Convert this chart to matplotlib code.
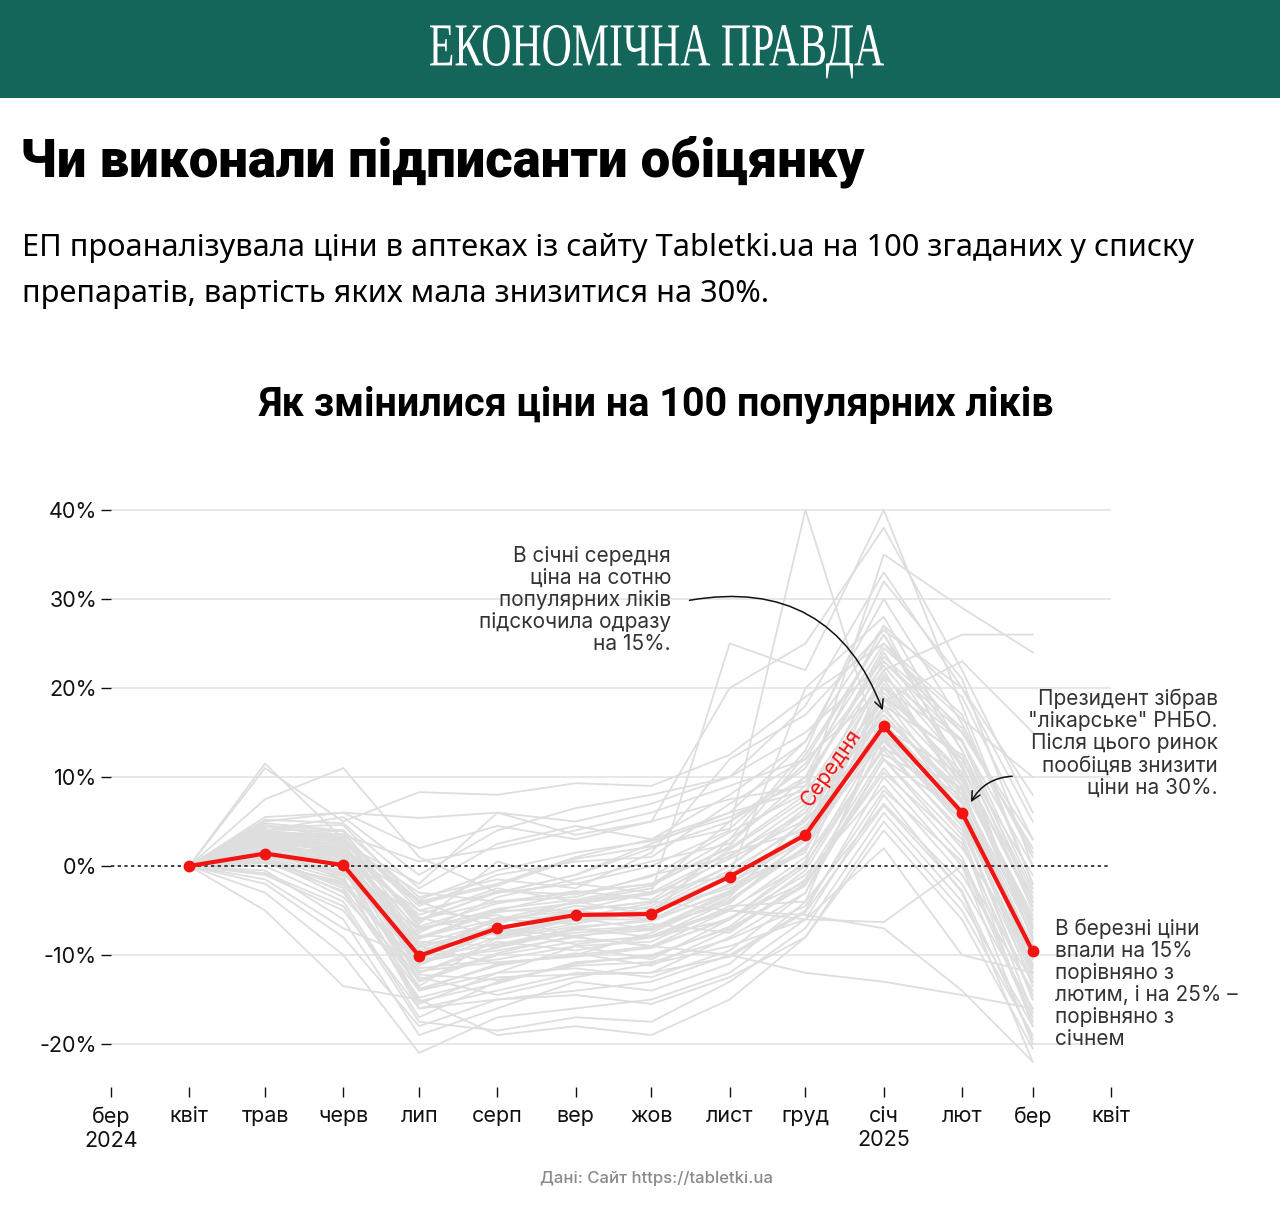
import datetime as dt
import matplotlib
matplotlib.use("Agg")
import matplotlib.pyplot as plt
import matplotlib.dates as mdates
from matplotlib.patches import Rectangle, PathPatch
from matplotlib.textpath import TextPath
from matplotlib.font_manager import FontProperties
from matplotlib.transforms import Affine2D

# months of the series (Apr 2024 .. Mar 2025)
months = [dt.date(2024, m, 1) for m in range(4, 13)] + [dt.date(2025, m, 1) for m in range(1, 4)]

# average price change, %
mean_change = [0, 1.4, 0.1, -10.1, -7.0, -5.5, -5.4, -1.2, 3.5, 15.7, 6.0, -9.6]

# individual drugs, %
g01 = [0, 11.5, 3.0, -4.0, -2.0, 1.0, 3.0, 6.0, 14.0, 27.0, 10.0, -6.0]
g02 = [0, 11.0, 5.0, 8.3, 8.0, 9.3, 9.0, 12.5, 19.0, 25.0, 15.0, 3.0]
g03 = [0, 7.5, 11.0, 1.0, -3.0, -1.0, 2.0, 5.0, 10.0, 22.0, 8.0, -8.0]
g04 = [0, 5.0, 6.0, 5.4, 6.0, 5.0, 7.0, 10.0, 18.0, 33.0, 20.0, 5.0]
g05 = [0, 4.5, 3.5, 0.5, 2.0, 4.0, 6.0, 9.0, 12.0, 20.0, 14.0, 0.0]
g06 = [0, 3.0, 2.5, -2.0, 6.0, 3.5, 5.0, 20.0, 25.0, 38.0, 22.0, 6.0]
g07 = [0, 2.0, 1.0, -5.0, -3.0, -2.0, 0.0, 4.0, 40.0, 12.0, 2.0, -10.0]
g08 = [0, 1.5, -1.0, -8.0, -6.0, -4.0, -3.0, 25.0, 22.0, 40.0, 18.0, -2.0]
g09 = [0, 4.0, 3.0, -6.0, -4.0, -3.0, -2.0, 2.0, 8.0, 35.0, 29.0, 24.0]
g10 = [0, 3.5, 2.0, -9.0, -7.0, -5.0, -6.0, -2.0, 4.0, 22.0, 26.0, 26.0]
g11 = [0, 0.5, -2.0, -12.0, -9.0, -7.0, -8.0, -4.0, 2.0, 18.0, 6.0, -12.0]
g12 = [0, 1.0, -3.0, -14.0, -11.0, -10.0, -9.0, -6.0, 0.0, 15.0, 5.0, -15.0]
g13 = [0, -1.0, -5.0, -16.0, -14.0, -12.0, -12.0, -8.0, -3.0, 12.0, 3.0, -18.0]
g14 = [0, -2.0, -8.0, -18.0, -15.0, -14.0, -13.0, -10.0, -5.0, 10.0, 0.0, -20.0]
g15 = [0, -3.0, -10.0, -21.0, -17.0, -16.0, -15.0, -12.0, -6.0, 8.0, -3.0, -22.0]
g16 = [0, -5.0, -13.5, -15.0, -19.0, -18.0, -19.0, -15.0, -8.0, 5.0, -5.0, -19.0]
g17 = [0, 2.5, 0.0, -11.0, -8.0, -6.0, -5.0, -1.0, 5.0, 16.0, 7.0, -9.0]
g18 = [0, 3.0, 1.5, -10.0, -6.0, -5.0, -4.0, 0.0, 6.0, 17.0, 8.0, -7.0]
g19 = [0, 2.0, 0.5, -9.5, -7.5, -6.0, -6.0, -2.0, 3.0, 14.0, 5.0, -11.0]
g20 = [0, 1.2, -0.5, -13.0, -10.0, -8.5, -8.0, -5.0, 1.0, 13.0, 4.0, -13.0]
g21 = [0, 4.8, 4.0, -7.0, -5.0, -3.0, -2.0, 3.0, 9.0, 24.0, 11.0, -4.0]
g22 = [0, 3.8, 3.2, -4.5, -1.0, 0.5, 1.0, 7.0, 12.0, 26.0, 13.0, -3.0]
g23 = [0, 2.8, 2.5, -3.0, -4.0, -3.5, -1.0, 1.0, 7.0, 21.0, 9.0, -6.0]
g24 = [0, 0.0, -4.0, -17.0, -13.0, -11.0, -10.0, -7.0, -2.0, 11.0, 1.0, -17.0]
g25 = [0, 1.8, -1.5, -15.5, -12.0, -9.0, -10.5, -6.0, -1.0, 9.0, -1.0, -14.0]
g26 = [0, 3.2, 2.8, -6.5, 0.5, -2.0, -3.0, 1.5, 4.0, 19.0, 12.0, -1.0]
g27 = [0, -0.5, -6.0, -19.0, -16.0, -13.0, -14.0, -11.0, -4.0, 7.0, -2.0, -16.0]
g28 = [0, 4.2, 0.8, -8.5, -9.0, -7.5, -7.0, -3.0, 2.0, 20.0, 10.0, -8.0]
g29 = [0, 2.2, 1.2, -11.5, -10.5, -9.0, -8.5, -4.5, -4.0, 16.0, 7.0, -10.0]
g30 = [0, 5.2, 4.8, -2.5, 2.5, 4.5, 3.0, 8.0, 14.0, 30.0, 16.0, 1.0]
g31 = [0, 3.5, 3.0, -7.5, -3.5, -1.5, 0.5, 2.5, 10.0, 27.0, 19.0, 3.0]
g32 = [0, 1.0, -2.5, -13.5, -8.0, -6.5, -4.5, 0.0, 6.5, 23.0, 14.0, -4.0]
g33 = [0, 0.8, -3.5, -12.5, -14.5, -12.5, -11.0, -9.0, -6.0, 2.0, -10.0, -12.0]
g34 = [0, -1.5, -7.0, -10.5, -9.5, -8.0, -9.0, -5.0, -6.0, -6.3, 0.0, -13.0]
g35 = [0, 2.5, 1.8, -4.0, -7.0, -5.0, -4.0, -5.0, -5.5, -7.0, -14.0, -22.0]
g36 = [0, 0.3, -1.8, -7.0, -5.5, -8.0, -9.0, -10.0, -12.0, -13.0, -14.5, -16.0]
g37 = [0, 4.0, 5.5, -1.0, 4.0, 6.5, 8.0, 10.0, 15.0, 23.0, 15.0, 2.0]
g38 = [0, 2.6, 2.0, -5.5, -2.5, -4.0, -2.5, 5.0, 11.0, 25.0, 17.0, -2.0]
g39 = [0, 1.6, 0.2, -14.0, -12.0, -11.5, -12.5, -9.5, -3.0, 14.5, 4.5, -15.0]
g40 = [0, -0.8, -4.5, -17.5, -18.5, -17.0, -17.5, -13.0, -7.0, 6.0, -4.0, -18.0]
g41 = [0, 3.0, 2.2, -8.0, -5.0, -5.0, -3.0, -1.0, 20.0, 28.0, 13.0, -5.0]
g42 = [0, 2.0, 1.0, -10.5, -6.5, -4.0, -5.5, 3.0, 13.0, 32.0, 21.0, 0.0]
g43 = [0, 4.5, 4.0, -3.5, -1.5, -2.5, 1.5, 12.0, 17.0, 26.5, 20.0, 8.0]
g44 = [0, 1.4, -0.8, -9.0, -11.0, -10.0, -7.5, -3.5, 5.5, 17.5, 9.0, -11.5]
g45 = [0, 0.6, -2.2, -11.0, -7.0, -8.0, -6.5, -7.5, -1.5, 12.5, 8.0, -9.0]
g46 = [0, 3.4, 3.6, -5.0, -6.0, -6.5, -5.0, -2.5, 1.5, 21.5, 11.5, -7.5]
g47 = [0, 2.4, 0.6, -6.0, -3.0, -1.0, 2.5, 6.0, 8.5, 18.5, 23.0, 15.0]
g48 = [0, 5.5, 6.0, 2.0, 4.5, 3.0, 5.0, 7.5, 9.0, 24.5, 16.5, 10.0]
g49 = [0, 1.1, -1.2, -16.0, -15.0, -14.5, -15.5, -12.5, -8.0, 4.0, -6.0, -20.5]
g50 = [0, 3.3, 2.4, -12.0, -8.5, -9.5, -8.0, -6.0, 0.5, 19.5, 10.5, -6.5]
g51 = [0, 3.6, 2.6, -8.8, -6.2, -4.5, -4.8, -0.5, 4.5, 15.0, 6.5, -9.5]
g52 = [0, 2.9, 1.9, -12.8, -9.8, -7.8, -7.2, -3.2, 2.8, 14.8, 5.5, -12.5]
g53 = [0, 4.1, 3.9, -6.8, -4.2, -2.8, -3.8, 1.8, 7.5, 19.0, 9.5, -5.5]
g54 = [0, 1.9, -0.2, -15.2, -13.2, -10.8, -10.2, -6.8, -0.5, 13.5, 3.5, -16.5]
g55 = [0, 2.7, 1.6, -7.8, -8.2, -6.8, -6.2, -2.8, 3.8, 17.0, 7.5, -10.5]
g56 = [0, 3.9, 3.4, -9.8, -5.8, -5.8, -4.2, 1.2, 6.0, 18.0, 12.5, -8.5]
g57 = [0, 0.9, -1.6, -11.8, -10.8, -10.2, -9.2, -5.8, -1.8, 10.5, 2.5, -14.5]
g58 = [0, 4.4, 4.6, -4.2, -2.2, 0.8, 2.2, 4.2, 11.5, 22.5, 12.0, -3.5]
g59 = [0, 2.3, 1.4, -13.8, -11.2, -9.8, -11.2, -7.2, -2.2, 12.0, 6.0, -13.5]
g60 = [0, 3.1, 2.1, -5.8, -7.8, -5.8, -7.2, -3.8, 2.2, 16.5, 8.5, -9.8]
g61 = [0, 1.3, 0.4, -10.8, -9.2, -7.2, -6.8, -4.2, 3.2, 20.5, 9.8, -6.8]
g62 = [0, 2.1, 0.9, -8.2, -5.2, -4.2, -3.2, 0.8, 5.2, 14.2, 5.2, -11.2]
g63 = [0, 4.6, 3.1, -6.2, -2.8, -3.2, -1.2, 3.8, 8.2, 21.2, 14.2, -2.5]
g64 = [0, 1.7, 0.1, -12.2, -12.8, -11.2, -10.8, -8.2, -4.5, 8.5, 0.5, -17.5]
g65 = [0, 2.6, 1.1, -9.2, -6.8, -6.2, -5.2, -2.2, 1.8, 15.5, 10.2, -8.2]
g66 = [0, 3.7, 2.9, -3.8, -0.5, 1.5, 2.8, 5.5, 9.5, 23.5, 15.5, 1.5]
g67 = [0, 0.4, -2.8, -14.8, -12.5, -12.2, -12.0, -10.2, -5.2, 6.8, -2.8, -19.5]
g68 = [0, 2.0, 1.7, -7.2, -4.8, -3.8, -2.2, 2.2, 12.5, 26.0, 11.0, -4.5]
g69 = [0, 3.0, 0.3, -10.2, -8.8, -7.0, -6.0, -3.0, 4.2, 18.8, 7.2, -10.0]
g70 = [0, 1.5, 0.7, -11.2, -7.2, -8.8, -7.8, -4.8, 0.2, 13.2, 8.8, -12.0]
drugs = [g01, g02, g03, g04, g05, g06, g07, g08, g09, g10, g11, g12, g13, g14, g15,
         g16, g17, g18, g19, g20, g21, g22, g23, g24, g25, g26, g27, g28, g29, g30,
         g31, g32, g33, g34, g35, g36, g37, g38, g39, g40, g41, g42, g43, g44, g45,
         g46, g47, g48, g49, g50, g51, g52, g53, g54, g55, g56, g57, g58, g59, g60,
         g61, g62, g63, g64, g65, g66, g67, g68, g69, g70]

# axis ticks
x_ticks = [dt.date(2024, 3, 1)] + [dt.date(2024, m, 1) for m in range(4, 13)] + \
          [dt.date(2025, m, 1) for m in range(1, 5)]
x_labels = ["бер\n2024", "квіт", "трав", "черв", "лип", "серп", "вер", "жов", "лист",
            "груд", "січ\n2025", "лют", "бер", "квіт"]
y_ticks = [40, 30, 20, 10, 0, -10, -20]

W, H = 1280, 1213
fig = plt.figure(figsize=(W / 100, H / 100), dpi=100)
fig.patch.set_facecolor("white")


def px(x, y):
    # pixel position (from top-left) -> figure fraction
    return x / W, 1 - y / H


# header band
fig.add_artist(Rectangle((0, 1 - 98 / H), 1, 98 / H, transform=fig.transFigure,
                         facecolor="#14655a", edgecolor="none"))
logo_font = FontProperties(family="Liberation Serif")
logo = TextPath((0, 0), "ЕКОНОМІЧНА ПРАВДА", size=100, prop=logo_font)
caps = TextPath((0, 0), "ЕКОНОМІЧНА", size=100, prop=logo_font).get_extents()
lb = logo.get_extents()
sx = (884 - 430) / lb.width
sy = (66 - 25) / caps.height
logo_tr = Affine2D().translate(-lb.x0, -caps.y0).scale(sx, sy).translate(430, H - 66)
fig.add_artist(PathPatch(logo, transform=logo_tr, facecolor="white", edgecolor="none"))

renderer = fig.canvas.get_renderer()


def fit(t, width):
    w = t.get_window_extent(renderer).width
    t.set_fontsize(t.get_fontsize() * width / w)


head_fam = ["Roboto", "DejaVu Sans"]
t1 = fig.text(*px(20, 162), "Чи виконали підписанти обіцянку", fontsize=34,
              fontweight="black", family=head_fam, va="center", ha="left")
fit(t1, 846)
t2 = fig.text(*px(22, 248), "ЕП проаналізувала ціни в аптеках із сайту Tabletki.ua на 100 згаданих у списку",
              fontsize=20, family="Noto Sans", va="center", ha="left")
fit(t2, 1171)
fig.text(*px(22, 294), "препаратів, вартість яких мала знизитися на 30%.",
         fontsize=t2.get_fontsize(), family="Noto Sans", va="center", ha="left")
t3 = fig.text(*px(656, 405), "Як змінилися ціни на 100 популярних ліків", fontsize=24,
              fontweight="bold", family=head_fam, va="center", ha="center")
fit(t3, 797)

# chart
ax = fig.add_axes([111 / W, (H - 1087) / H, 1000 / W, (1087 - 505) / H])
ax.set_xlim(dt.date(2024, 3, 1), dt.date(2025, 4, 1))
ax.set_ylim(-(1087 - 866) / 8.9, (866 - 505) / 8.9)

for v in y_ticks:
    if v != 0:
        ax.axhline(v, color="#e6e6e6", lw=1.3, zorder=0)
ax.axhline(0, color="#222222", lw=1.2, ls=(0, (2, 2)), zorder=3)

for d in drugs:
    ax.plot(months, d, color="#dedede", lw=1.3, zorder=1)

ax.plot(months, mean_change, color="#f21410", lw=3, marker="o", markersize=7.5, zorder=5)

for s in ax.spines.values():
    s.set_visible(False)
ax.set_yticks(y_ticks)
ax.set_yticklabels([f"{v}%" for v in y_ticks])
ax.set_xticks(x_ticks)
ax.set_xticklabels(x_labels, linespacing=1.25)
ax.tick_params(axis="both", labelsize=15.5, length=7, width=1, color="#111111",
               labelcolor="#111111")
ax.tick_params(axis="x", pad=7)
ax.tick_params(axis="y", pad=3)
for lab in ax.get_xticklabels() + ax.get_yticklabels():
    lab.set_family("Inter")

# annotations
note_kw = dict(fontsize=15, family="Inter", color="#333333", linespacing=1.13)
fig.text(*px(671, 600), "В січні середня\nціна на сотню\nпопулярних ліків\nпідскочила одразу\nна 15%.",
         ha="right", va="center", multialignment="right", **note_kw)
fig.text(*px(1218, 743), "Президент зібрав\n\"лікарське\" РНБО.\nПісля цього ринок\nпообіцяв знизити\nціни на 30%.",
         ha="right", va="center", multialignment="right", **note_kw)
fig.text(*px(1055, 984), "В березні ціни\nвпали на 15%\nпорівняно з\nлютим, і на 25% –\nпорівняно з\nсічнем",
         ha="left", va="center", multialignment="left", **note_kw)

ax.annotate("", xy=(mdates.date2num(dt.date(2025, 1, 1)), 17.2),
            xytext=(mdates.date2num(dt.date(2024, 10, 15)), 29.8),
            arrowprops=dict(arrowstyle="->", color="#111111", lw=1.1,
                            connectionstyle="arc3,rad=-0.42", mutation_scale=16))
ax.annotate("", xy=(mdates.date2num(dt.date(2025, 2, 4)), 6.9),
            xytext=(mdates.date2num(dt.date(2025, 2, 22)), 10.1),
            arrowprops=dict(arrowstyle="->", color="#111111", lw=1.1,
                            connectionstyle="arc3,rad=0.3", mutation_scale=16))

ax.text(mdates.date2num(dt.date(2024, 12, 11)), 11.1, "Середня", color="#f21410",
        fontsize=15, family="Inter", rotation=55, ha="center", va="center")

fig.text(*px(656, 1178), "Дані: Сайт https://tabletki.ua", ha="center", va="center",
         fontsize=12, family="Inter", fontweight="medium", color="#8a8a8a")

fig.savefig("out.png", dpi=100)
